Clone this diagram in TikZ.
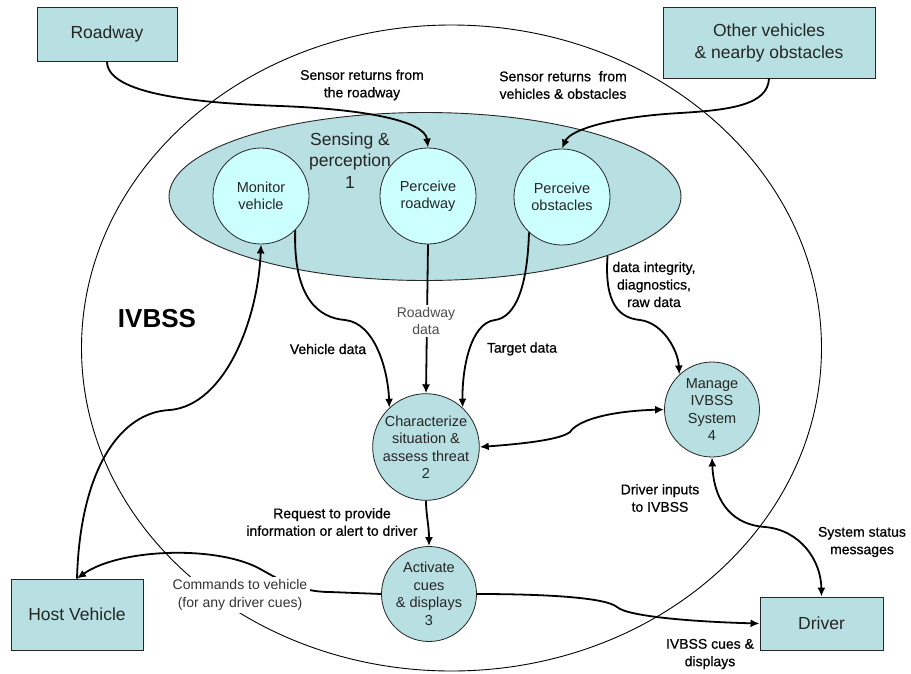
\documentclass[tikz,border=0pt]{standalone}
\usepackage{fontspec}
\setmainfont{Liberation Sans}
\newfontfamily\lblfont[FakeBold=0.6]{Liberation Sans}
\usetikzlibrary{arrows.meta,shapes.geometric}
\definecolor{tealfill}{RGB}{184,223,226}
\definecolor{cyanfill}{RGB}{204,255,255}
\begin{document}
\begin{tikzpicture}[x=1pt,y=-1pt,
  box/.style={draw=black!85, line width=0.9pt, fill=tealfill, align=center, inner sep=0pt,
    font=\fontsize{17.5}{22}\selectfont, text=black!85},
  proc/.style={circle, draw=black!85, line width=0.8pt, fill=tealfill, inner sep=0pt, align=center,
    font=\fontsize{14.5}{17.5}\selectfont, text=black!85},
  subproc/.style={proc, fill=cyanfill},
  flow/.style={line width=1.8pt, -{Latex[length=9pt,width=8pt]}},
  biflow/.style={line width=1.8pt, {Latex[length=9pt,width=8pt]}-{Latex[length=9pt,width=8pt]}},
  lbl/.style={font=\lblfont\fontsize{14}{17.5}\selectfont, align=center, inner sep=1pt, text=black},
  lightlbl/.style={font=\fontsize{14}{17.5}\selectfont, align=center, fill=white},
]
\useasboundingbox (0,0) rectangle (911,673);
\fill[white] (0,0) rectangle (911,673);

% IVBSS boundary
\draw[line width=0.9pt] (451.5,348) ellipse [x radius=370pt, y radius=323pt];

% Sensing & perception group
\node[ellipse, draw=black!85, line width=0.9pt, fill=tealfill, minimum width=512pt, minimum height=168pt, inner sep=0pt] (sense) at (425,196.5) {};
\node[font=\fontsize{17.5}{21.5}\selectfont, align=center, text=black!85] (senselbl) at (350,160.5) {Sensing \&\\perception\\1};

% External entities
\node[box, minimum width=140pt, minimum height=54pt] (road) at (107,34) {Roadway};
\node[box, minimum width=212pt, minimum height=71pt] (other) at (769,42.5) {Other vehicles\\\& nearby obstacles};
\node[box, minimum width=132pt, minimum height=71pt] (host) at (77,614.5) {Host Vehicle};
\node[box, minimum width=123pt, minimum height=53pt] (driver) at (821.5,623.5) {Driver};

% Processes
\node[subproc, minimum size=96pt] (mon) at (261,196) {Monitor\\vehicle};
\node[subproc, minimum size=96pt] (pr) at (428,196) {Perceive\\roadway};
\node[subproc, minimum size=96pt] (po) at (562,197) {Perceive\\obstacles};
\node[proc, minimum size=104pt] (char) at (426,447) {Characterize\\situation \&\\assess threat\\2};
\node[proc, minimum size=95pt] (act) at (429,594) {Activate\\cues\\\& displays\\3};
\node[proc, minimum size=95pt] (mng) at (712,409.5) {Manage\\IVBSS\\System\\4};

\node[font=\bfseries\fontsize{26}{30}\selectfont] (ivbss) at (157,319) {IVBSS};

% Flows
\draw[flow] (road.south) .. controls (107,95) and (200,103) .. (280,106)
  .. controls (360,109) and (425,120) .. (pr.north);
\draw[flow] (other.south) .. controls (768,105) and (730,110) .. (680,113)
  .. controls (610,117) and (570,130) .. (po.north);
\draw[flow] (mon.-45) .. controls (293,300) and (320,318) .. (345,320)
  .. controls (375,323) and (388,370) .. (char.133);
\draw[flow] (pr.south) -- (char.north);
\draw[flow] (po.-133) .. controls (527,300) and (510,318) .. (495,320)
  .. controls (470,323) and (462,370) .. (char.47);
\draw[flow] (sense.-18) .. controls (604,305) and (620,318) .. (640,320)
  .. controls (663,323) and (678,350) .. (mng.133);
\draw[biflow] (char.east) .. controls (520,444) and (560,440) .. (570,432)
  .. controls (578,420) and (610,411) .. (mng.west);
\draw[flow] (char.south) .. controls (426,515) and (429,525) .. (act.north);
\draw[flow] (act.west) -- (330,592) .. controls (300,592) and (280,580) .. (262,570)
  .. controls (220,545) and (120,548) .. (host.north);
\draw[flow] (host.north) .. controls (80,470) and (120,412) .. (170,410)
  .. controls (225,405) and (258,320) .. (mon.south);
\draw[flow] (act.east) .. controls (540,594) and (605,597) .. (617,607)
  .. controls (628,617) and (700,622) .. (driver.west);
\draw[biflow] (mng.south) .. controls (714,505) and (735,525) .. (765,527)
  .. controls (800,530) and (821,560) .. (driver.north);

% Labels
\node[lbl] (l1) at (362,85) {Sensor returns from\\the roadway};
\node[lbl] (l2) at (563,85) {Sensor returns\ \ from\\vehicles \& obstacles};
\node[lightlbl, text=black!70, inner sep=2pt] (l3) at (426,321) {Roadway\\data};
\node[lbl] (l4) at (328,349) {Vehicle data};
\node[lbl] (l5) at (522,349) {Target data};
\node[lbl] (l6) at (654,284.5) {data integrity,\\diagnostics,\\raw data};
\node[lbl] (l7) at (332,522) {Request to provide\\information or alert to driver};
\node[lightlbl, text=black!80, inner sep=3pt] (l8) at (240,595) {Commands to vehicle\\(for any driver cues)};
\node[lbl] (l9) at (660,498) {Driver inputs\\to IVBSS};
\node[lbl] (l10) at (862,542) {System status\\messages};
\node[lbl] (l11) at (710,654) {IVBSS cues \&\\displays};
\end{tikzpicture}
\end{document}
